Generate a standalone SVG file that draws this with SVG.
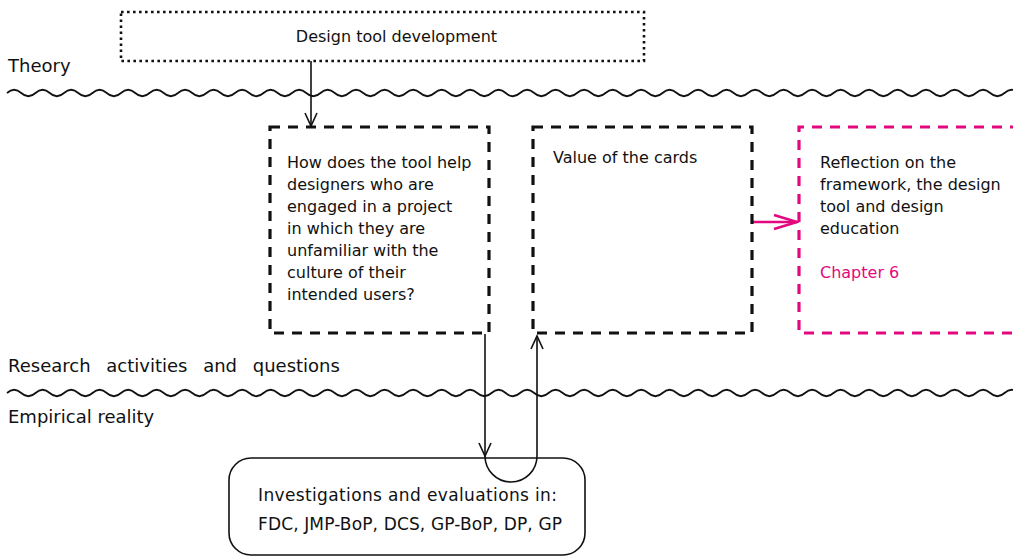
<svg xmlns="http://www.w3.org/2000/svg" width="1013" height="557" viewBox="0 0 1013 557">
<defs>
<style>
text{font-family:"DejaVu Sans",sans-serif;fill:#111}
.t16{font-size:16px}
.t17{font-size:17px}
.lab{font-size:18px}
.pink{fill:#e3087f}
.wave{fill:none;stroke:#111;stroke-width:1.7}
.dash{fill:none;stroke:#111;stroke-width:3.2;stroke-dasharray:10 8}
.dashp{fill:none;stroke:#e3087f;stroke-width:3.2;stroke-dasharray:10 8}
.dot{fill:none;stroke:#111;stroke-width:2.6;stroke-dasharray:2.6 3.4}
.con{fill:none;stroke:#111;stroke-width:1.6}
.conp{fill:none;stroke:#e3087f;stroke-width:2.6}
</style>
<marker id="ah" markerUnits="userSpaceOnUse" markerWidth="16" markerHeight="16" viewBox="0 0 16 16" refX="14" refY="8" orient="auto">
<path d="M1,2 L14,8 L1,14" fill="none" stroke="#111" stroke-width="1.6"/>
</marker>
<marker id="ahp" markerUnits="userSpaceOnUse" markerWidth="28" markerHeight="18" viewBox="0 0 28 18" refX="26" refY="9" orient="auto">
<path d="M3,2 L26,9 L3,16" fill="none" stroke="#e3087f" stroke-width="2.6"/>
</marker>
</defs>
<rect width="1013" height="557" fill="#fff"/>

<g id="layers">
<text class="lab" x="8" y="72">Theory</text>
<path class="wave" d="M7,93 q7.125 -6.5 14.25 0 t14.25 0 t14.25 0 t14.25 0 t14.25 0 t14.25 0 t14.25 0 t14.25 0 t14.25 0 t14.25 0 t14.25 0 t14.25 0 t14.25 0 t14.25 0 t14.25 0 t14.25 0 t14.25 0 t14.25 0 t14.25 0 t14.25 0 t14.25 0 t14.25 0 t14.25 0 t14.25 0 t14.25 0 t14.25 0 t14.25 0 t14.25 0 t14.25 0 t14.25 0 t14.25 0 t14.25 0 t14.25 0 t14.25 0 t14.25 0 t14.25 0 t14.25 0 t14.25 0 t14.25 0 t14.25 0 t14.25 0 t14.25 0 t14.25 0 t14.25 0 t14.25 0 t14.25 0 t14.25 0 t14.25 0 t14.25 0 t14.25 0 t14.25 0 t14.25 0 t14.25 0 t14.25 0 t14.25 0 t14.25 0 t14.25 0 t14.25 0 t14.25 0 t14.25 0 t14.25 0 t14.25 0 t14.25 0 t14.25 0 t14.25 0 t14.25 0 t14.25 0 t14.25 0 t14.25 0 t14.25 0 t14.25 0 t14.25 0 t14.25 0 t14.25 0"/>
<text class="lab" x="8" y="372" word-spacing="10">Research activities and questions</text>
<path class="wave" d="M7,393 q7.125 -6.5 14.25 0 t14.25 0 t14.25 0 t14.25 0 t14.25 0 t14.25 0 t14.25 0 t14.25 0 t14.25 0 t14.25 0 t14.25 0 t14.25 0 t14.25 0 t14.25 0 t14.25 0 t14.25 0 t14.25 0 t14.25 0 t14.25 0 t14.25 0 t14.25 0 t14.25 0 t14.25 0 t14.25 0 t14.25 0 t14.25 0 t14.25 0 t14.25 0 t14.25 0 t14.25 0 t14.25 0 t14.25 0 t14.25 0 t14.25 0 t14.25 0 t14.25 0 t14.25 0 t14.25 0 t14.25 0 t14.25 0 t14.25 0 t14.25 0 t14.25 0 t14.25 0 t14.25 0 t14.25 0 t14.25 0 t14.25 0 t14.25 0 t14.25 0 t14.25 0 t14.25 0 t14.25 0 t14.25 0 t14.25 0 t14.25 0 t14.25 0 t14.25 0 t14.25 0 t14.25 0 t14.25 0 t14.25 0 t14.25 0 t14.25 0 t14.25 0 t14.25 0 t14.25 0 t14.25 0 t14.25 0 t14.25 0 t14.25 0 t14.25 0 t14.25 0 t14.25 0"/>
<text class="lab" x="8" y="423">Empirical reality</text>
</g>

<g id="connectors">
<path class="con" d="M311,61 V126" marker-end="url(#ah)"/>
<path class="con" d="M485,334 V456" marker-end="url(#ah)"/>
<path class="con" d="M485,456 A26,26 0 0 0 537,456 V336" marker-end="url(#ah)"/>
<path class="conp" d="M752,222 H797" marker-end="url(#ahp)"/>
</g>

<g id="node-design-tool">
<rect class="dot" x="121" y="12" width="523" height="49"/>
<text class="t16" x="396.5" y="42" text-anchor="middle">Design tool development</text>
</g>

<g id="node-question">
<rect class="dash" x="270" y="127" width="219" height="206"/>
<text class="t16" x="287">
<tspan x="287" y="168">How does the tool help</tspan>
<tspan x="287" y="190">designers who are</tspan>
<tspan x="287" y="212">engaged in a project</tspan>
<tspan x="287" y="234">in which they are</tspan>
<tspan x="287" y="256">unfamiliar with the</tspan>
<tspan x="287" y="278">culture of their</tspan>
<tspan x="287" y="300">intended users?</tspan>
</text>
</g>

<g id="node-value">
<rect class="dash" x="533" y="127" width="219" height="206"/>
<text class="t16" x="553" y="163">Value of the cards</text>
</g>

<g id="node-reflection">
<path class="dashp" d="M1020,127 H799 V333 H1020"/>
<text class="t16" x="820">
<tspan x="820" y="168">Reflection on the</tspan>
<tspan x="820" y="190">framework, the design</tspan>
<tspan x="820" y="212">tool and design</tspan>
<tspan x="820" y="234">education</tspan>
</text>
<text class="t16 pink" x="820" y="278">Chapter 6</text>
</g>

<g id="node-investigations">
<rect x="229" y="458" width="356" height="97" rx="22" fill="none" stroke="#111" stroke-width="1.6"/>
<text class="t17" x="258" y="501" textLength="299">Investigations and evaluations in:</text>
<text class="t17" x="258" y="530" textLength="304">FDC, JMP-BoP, DCS, GP-BoP, DP, GP</text>
</g>
</svg>
